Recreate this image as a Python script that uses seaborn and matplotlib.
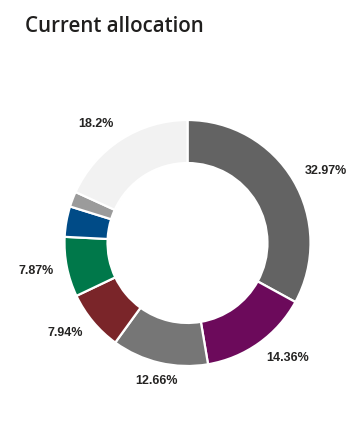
import numpy as np
import matplotlib
matplotlib.use("Agg")
import matplotlib.pyplot as plt
import seaborn as sns

categories = ["A", "B", "C", "D", "E", "F", "G", "H"]
values = [32.97, 14.36, 12.66, 7.94, 7.87, 4.0, 2.0, 18.2]
labels = ["32.97%", "14.36%", "12.66%", "7.94%", "7.87%", "", "", "18.2%"]
colors = ["#636363", "#6C0A5B", "#767676", "#7A2529", "#00784A", "#004B87", "#9B9B9B", "#F2F2F2"]

sns.set_theme(style="white")
pal = sns.color_palette(colors)

fig = plt.figure(figsize=(3.64, 4.30), dpi=100)
fig.text(25 / 364, 1 - 27 / 430, "Current allocation", fontsize=14.8, fontweight="semibold",
         family=["Open Sans", "DejaVu Sans"], color="#201F1E", va="center", ha="left")

R = 123
cx, cy = 187.5, 243
ax = fig.add_axes([(cx - R) / 364, (430 - cy - R) / 430, 2 * R / 364, 2 * R / 430])
wedges, _ = ax.pie(values, colors=pal, startangle=90, counterclock=False, radius=1.0,
                   wedgeprops=dict(width=0.35, edgecolor="white", linewidth=1.6))
ax.set_xlim(-1, 1)
ax.set_ylim(-1, 1)
ax.set_aspect("equal")
ax.axis("off")

for w, lab in zip(wedges, labels):
    if not lab:
        continue
    ang = np.deg2rad((w.theta1 + w.theta2) / 2)
    c, s = np.cos(ang), np.sin(ang)
    ha = "left" if c > 0.3 else ("right" if c < -0.3 else "center")
    ax.text(1.11 * c, 1.15 * s, lab, ha=ha, va="center", fontsize=9, fontweight="bold",
            family=["Arial", "Liberation Sans", "DejaVu Sans"], color="#252423", clip_on=False)

fig.savefig("out.png", dpi=100, facecolor="white")
